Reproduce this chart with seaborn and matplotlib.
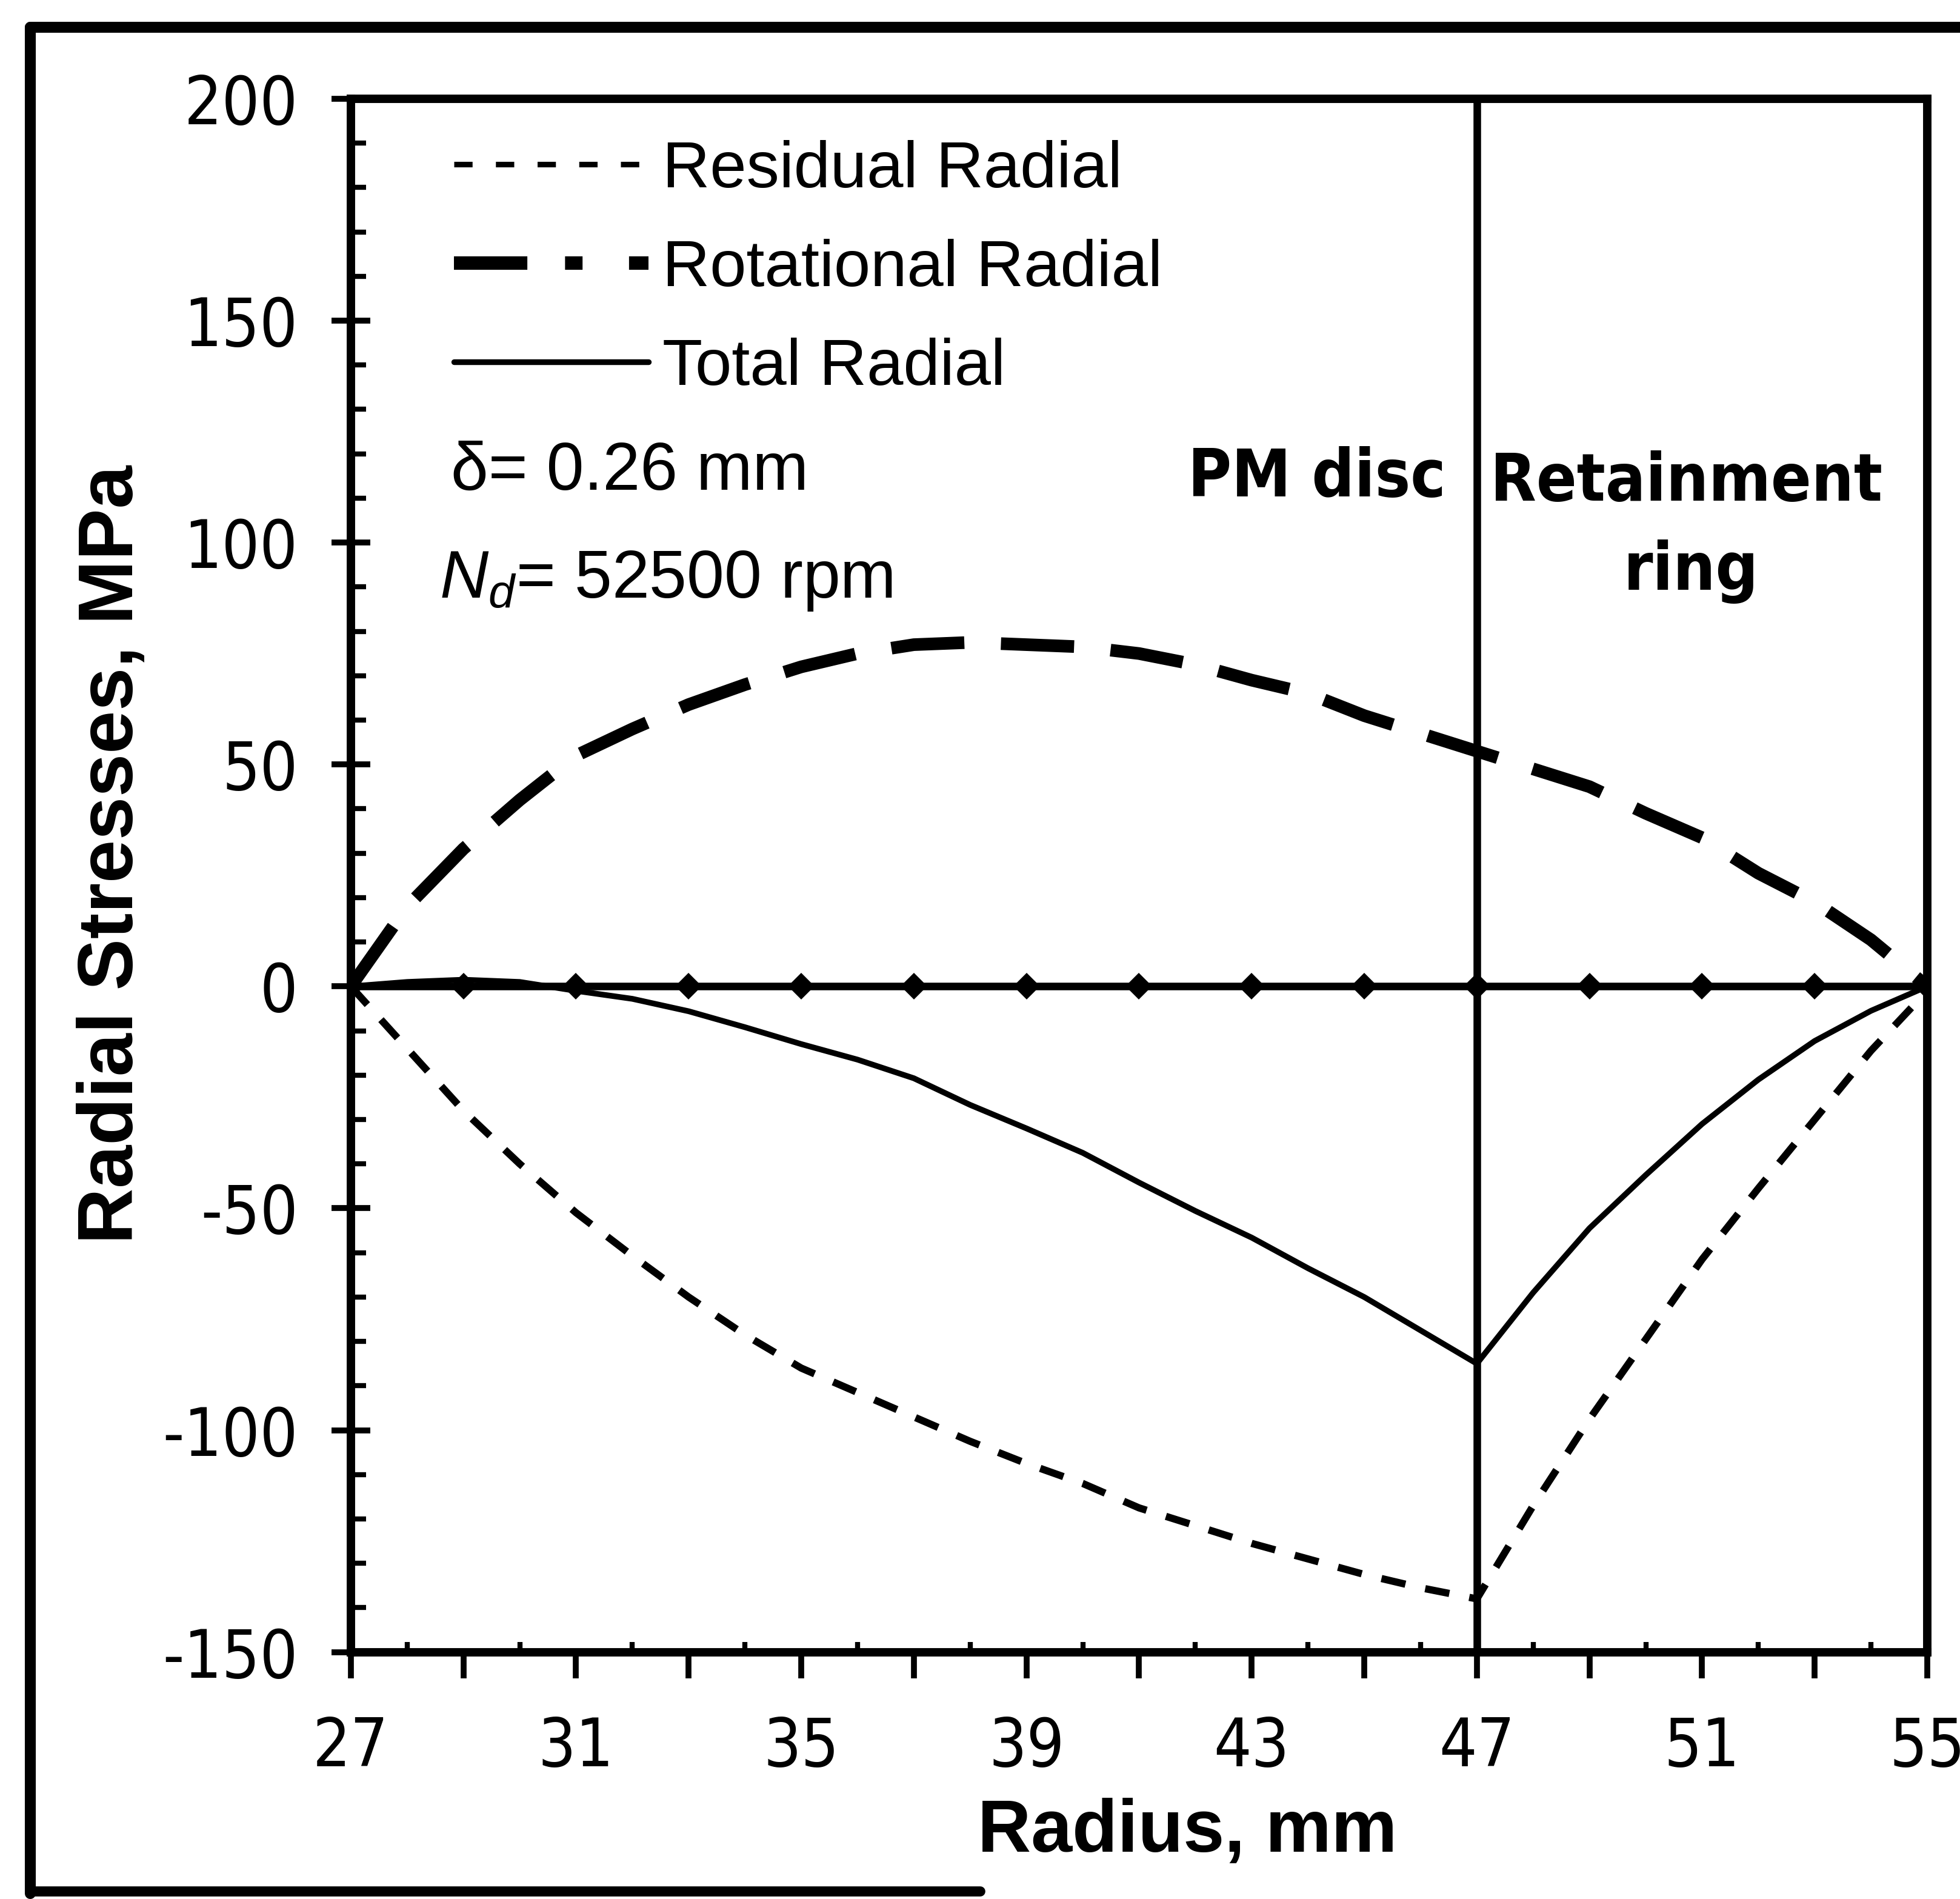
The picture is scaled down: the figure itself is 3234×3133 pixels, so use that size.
import os
import math
import matplotlib
matplotlib.use("Agg")
import matplotlib.pyplot as plt
import seaborn as sns
from matplotlib import font_manager as fm
from matplotlib.font_manager import FontProperties
from matplotlib.textpath import TextPath
from matplotlib.lines import Line2D
from matplotlib.ticker import MultipleLocator

# ---------------- data ----------------
radius = [27, 28, 29, 30, 31, 32, 33, 34, 35, 36, 37, 38, 39, 40, 41,
          42, 43, 44, 45, 46, 47, 48, 49, 50, 51, 52, 53, 54, 55]
residual_radial = [0, -14, -28, -40, -51, -60.7, -70, -78.5, -86, -91.5,
                   -97, -102.5, -107.5, -112, -117.5, -121.5, -125.5, -129,
                   -132.5, -135.5, -138, -117, -97.5, -79.5, -61.5, -45.5,
                   -30, -14.5, -1]
rotational_radial = [0, 18, 31, 42, 52, 58, 63.5, 68, 72, 75, 77, 77.5, 77,
                     76.5, 75, 72.5, 69, 66, 61, 57, 53, 49, 45, 39, 33.5,
                     25.5, 19, 10.5, 0]
total_radial = [0, 1, 1.5, 1, -1, -2.8, -5.6, -9.2, -13, -16.5, -20.7, -26.7,
                -32, -37.5, -44.2, -50.6, -56.6, -63.5, -70, -77.5, -85, -69,
                -54.5, -42.5, -31, -21, -12.3, -5.5, 0]
zero_x = [27, 29, 31, 33, 35, 37, 39, 41, 43, 45, 47, 49, 51, 53, 55]
zero_y = [0] * len(zero_x)
boundary_radius = 47

series_labels = ["Residual Radial", "Rotational Radial", "Total Radial"]
x_ticks = [27, 29, 31, 33, 35, 37, 39, 41, 43, 45, 47, 49, 51, 53, 55]
x_tick_labels = ["27", "", "31", "", "35", "", "39", "", "43", "", "47", "",
                 "51", "", "55"]
y_ticks = [-150, -100, -50, 0, 50, 100, 150, 200]
y_tick_labels = ["-150", "-100", "-50", "0", "50", "100", "150", "200"]

DPI = 200

# ---------------- style ----------------
sns.set_theme(style="ticks")
plt.rcParams["font.family"] = ["Liberation Sans", "DejaVu Sans"]
plt.rcParams.update({
    "mathtext.fontset": "custom",
    "mathtext.rm": "Liberation Sans",
    "mathtext.it": "Liberation Sans:italic",
    "mathtext.bf": "Liberation Sans:bold",
    "axes.unicode_minus": False,
    "text.color": "black",
    "axes.labelcolor": "black",
    "axes.edgecolor": "black",
    "xtick.color": "black",
    "ytick.color": "black",
})


def _weight(f):
    w = f.weight
    if isinstance(w, str):
        w = fm.weight_dict.get(w, 400)
    return int(w)


def find_narrow(bold):
    prefs = ["Liberation Sans Narrow", "Arial Narrow", "Nimbus Sans Narrow",
             "Liberation Sans", "DejaVu Sans", "Noto Sans", "Roboto",
             "Open Sans", "Lato", "Inter"]
    cands = []
    for f in fm.fontManager.ttflist:
        nm = f.name
        fn = os.path.basename(f.fname).lower()
        low = nm.lower()
        narrow = ("narrow" in low or "condensed" in low or "narrow" in fn
                  or "condensed" in fn
                  or f.stretch in ("condensed", "semi-condensed",
                                   "extra-condensed", "ultra-condensed"))
        if not narrow or "[" in fn:
            continue
        if f.style != "normal" or "italic" in fn or "oblique" in fn:
            continue
        w = _weight(f)
        if bold and w < 600:
            continue
        if not bold and not (350 <= w <= 500):
            continue
        rank = next((i for i, p in enumerate(prefs) if nm.startswith(p)),
                    len(prefs))
        extra = 1 if ("semi" in fn or "extra" in fn or "ultra" in fn) else 0
        cands.append((extra, rank, f.fname))
    cands.sort()
    return cands[0][2] if cands else None


reg_path = find_narrow(False)
bold_path = find_narrow(True)
if reg_path:
    NARROW_REG = FontProperties(fname=reg_path)
else:
    NARROW_REG = FontProperties(family="Liberation Sans")
if bold_path:
    NARROW_BOLD = FontProperties(fname=bold_path)
else:
    NARROW_BOLD = FontProperties(family="Liberation Sans", weight="bold")


def fit_size(prop, text, target_w_px, target_h_px):
    p = prop.copy()
    p.set_size(100)
    ext = TextPath((0, 0), text, size=100, prop=p).get_extents()
    s_w = 100 * (target_w_px * 72 / DPI) / ext.width
    s_h = 100 * (target_h_px * 72 / DPI) / ext.height
    return math.sqrt(s_w * s_h)


TICK_FS = 0.95 * fit_size(NARROW_REG, "200", 176, 91)
REGION_FS = fit_size(NARROW_BOLD, "PM disc", 395, 88)
TICK_PROP = NARROW_REG.copy()
TICK_PROP.set_size(TICK_FS)
REGION_PROP = NARROW_BOLD.copy()
REGION_PROP.set_size(REGION_FS)

fig = plt.figure(figsize=(16.17, 15.665), dpi=DPI)
ax = fig.add_axes([0.179, 0.130, 0.9833 - 0.179, 0.948 - 0.130])

# zero reference line with diamond markers
sns.lineplot(x=zero_x, y=zero_y, ax=ax, color="black", linewidth=4.5,
             marker="D", markersize=11, markeredgewidth=0, zorder=3)
# boundary between PM disc and retainment ring
ax.axvline(boundary_radius, color="black", linewidth=4.5, zorder=3)

sns.lineplot(x=radius, y=residual_radial, ax=ax, color="black",
             linewidth=4.3, linestyle=(0, (3.4, 2.8)),
             label=series_labels[0], zorder=4)
sns.lineplot(x=radius, y=rotational_radial, ax=ax, color="black",
             linewidth=7.5, linestyle=(0, (5.8, 2.9)),
             label=series_labels[1], zorder=4)
sns.lineplot(x=radius, y=total_radial, ax=ax, color="black",
             linewidth=3.4, linestyle="-", label=series_labels[2], zorder=4)

ax.set_xlim(27, 55)
ax.set_ylim(-150, 200)
ax.set_xticks(x_ticks)
ax.set_xticklabels(x_tick_labels)
ax.xaxis.set_minor_locator(MultipleLocator(2))
ax.set_yticks(y_ticks)
ax.set_yticklabels(y_tick_labels)
ax.yaxis.set_minor_locator(MultipleLocator(10))
ax.set_xlabel("")
ax.set_ylabel("")

ax.tick_params(axis="x", which="major", direction="out", length=15.5,
               width=3.5, pad=22, top=False, color="black")
ax.tick_params(axis="x", which="minor", direction="in", length=6,
               width=3, top=False, color="black")
ax.tick_params(axis="y", which="major", direction="inout", length=23,
               width=3.5, pad=20, right=False, color="black")
ax.tick_params(axis="y", which="minor", direction="in", length=9,
               width=3, right=False, color="black")
for lab in ax.get_xticklabels() + ax.get_yticklabels():
    lab.set_fontproperties(TICK_PROP)
    lab.set_color("black")

for sp in ax.spines.values():
    sp.set_visible(True)
    sp.set_linewidth(5)
    sp.set_color("black")
ax.grid(False)

# legend
handles, labels = ax.get_legend_handles_labels()
leg = ax.legend(handles, labels, loc="upper left",
                bbox_to_anchor=(0.2316, 0.9263),
                bbox_transform=fig.transFigure, frameon=False, fontsize=39,
                handlelength=2.96, handletextpad=0.22, labelspacing=0.58,
                borderpad=0, borderaxespad=0)
leg_lines = leg.get_lines()
leg_lines[0].set_linewidth(3.3)
leg_lines[0].set_dashes([3.3, 4.2])
leg_lines[1].set_linewidth(8)
leg_lines[1].set_dashes([5.45, 2.8, 1.3, 3.45, 1.95, 2.3])
leg_lines[2].set_linewidth(3.4)

# annotations
ax.text(28.78, 111.9, "δ= 0.26 mm", fontsize=40, ha="left", va="baseline")
ax.text(28.57, 87.6, r"$N_d$= 52500 rpm", fontsize=40, ha="left",
        va="baseline")
ax.text(46.45, 110.4, "PM disc", fontproperties=REGION_PROP,
        ha="right", va="baseline")
ax.text(50.72, 109.5, "Retainment", fontproperties=REGION_PROP,
        ha="center", va="baseline")
ax.text(50.8, 89.4, "ring", fontproperties=REGION_PROP,
        ha="center", va="baseline")

# axis titles
fig.text(0.6058, 0.0249, "Radius, mm", fontsize=44, fontweight="bold",
         ha="center", va="baseline")
fig.text(0.0574, 0.55, "Radial Stresses, MPa", fontsize=46,
         fontweight="bold", rotation=90, ha="center", va="center")

# outer frame of the scanned figure
fig.add_artist(Line2D([0.0155, 0.0155], [0.003, 0.9856],
                      transform=fig.transFigure, color="black", lw=6.5))
fig.add_artist(Line2D([0.0155, 1.0], [0.9856, 0.9856],
                      transform=fig.transFigure, color="black", lw=6.5))
fig.add_artist(Line2D([0.0155, 0.5], [0.004, 0.004],
                      transform=fig.transFigure, color="black", lw=6))

fig.savefig("out.png", dpi=DPI, facecolor="white")
